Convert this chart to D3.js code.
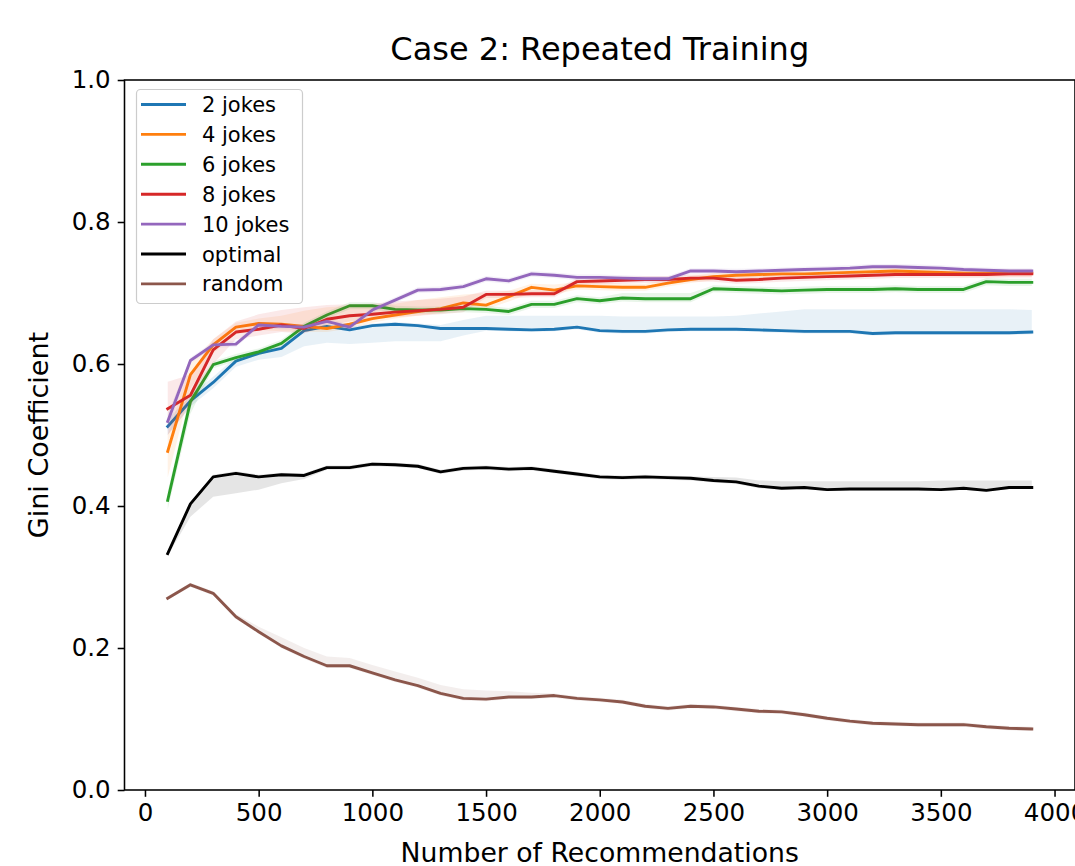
<html>
<!DOCTYPE html>
<meta charset="utf-8">
<style>
  body { margin: 0; background: #fff; }
  text { font-family: "DejaVu Sans", sans-serif; fill: #000; }
</style>
<body>
<div id="viz"></div>
<script src="https://d3js.org/d3.v7.min.js"></script>
<script>
// number of recommendations (x)
var recs = [100,200,300,400,500,600,700,800,900,1000,1100,1200,1300,1400,1500,1600,1700,1800,1900,2000,
            2100,2200,2300,2400,2500,2600,2700,2800,2900,3000,3100,3200,3300,3400,3500,3600,3700,3800,3900];

// gini values
var jokes2 = [0.512,0.548,0.574,0.604,0.615,0.622,0.647,0.653,0.648,0.654,0.656,0.654,0.650,0.650,0.650,0.649,0.648,0.649,0.652,0.647,
              0.646,0.646,0.648,0.649,0.649,0.649,0.648,0.647,0.646,0.646,0.646,0.643,0.644,0.644,0.644,0.644,0.644,0.644,0.645];
var jokes2Lo = [0.500,0.540,0.566,0.596,0.606,0.610,0.625,0.630,0.628,0.630,0.632,0.632,0.632,0.640,0.647,0.646,0.645,0.646,0.649,0.644,
              0.643,0.643,0.645,0.646,0.646,0.646,0.645,0.644,0.643,0.643,0.643,0.640,0.641,0.641,0.641,0.641,0.641,0.641,0.642];
var jokes2Hi = [0.522,0.556,0.582,0.610,0.620,0.626,0.650,0.656,0.652,0.657,0.659,0.657,0.655,0.662,0.668,0.668,0.668,0.668,0.668,0.668,
              0.667,0.667,0.667,0.667,0.667,0.668,0.671,0.674,0.677,0.677,0.677,0.677,0.677,0.677,0.677,0.677,0.677,0.677,0.676];

var jokes4 = [0.477,0.585,0.627,0.652,0.657,0.656,0.653,0.650,0.656,0.664,0.669,0.674,0.678,0.686,0.683,0.695,0.708,0.704,0.710,0.709,
              0.708,0.708,0.714,0.719,0.723,0.725,0.726,0.727,0.727,0.728,0.729,0.730,0.731,0.730,0.729,0.728,0.728,0.728,0.728];
var jokes4Lo = [0.440,0.565,0.615,0.642,0.648,0.646,0.645,0.645,0.650,0.658,0.664,0.668,0.672,0.678,0.677,0.688,0.700,0.698,0.705,0.704,
              0.703,0.703,0.709,0.714,0.718,0.720,0.721,0.722,0.722,0.723,0.724,0.725,0.726,0.725,0.724,0.723,0.723,0.723,0.723];
var jokes4Hi = [0.500,0.600,0.635,0.658,0.664,0.668,0.675,0.680,0.682,0.683,0.685,0.690,0.694,0.698,0.700,0.703,0.713,0.712,0.715,0.714,
              0.713,0.713,0.719,0.724,0.728,0.730,0.731,0.732,0.732,0.733,0.734,0.735,0.736,0.735,0.734,0.733,0.733,0.733,0.733];

var jokes6 = [0.408,0.547,0.599,0.609,0.617,0.629,0.653,0.669,0.682,0.682,0.677,0.676,0.676,0.678,0.677,0.674,0.684,0.684,0.692,0.689,
              0.693,0.692,0.692,0.692,0.706,0.705,0.704,0.703,0.704,0.705,0.705,0.705,0.706,0.705,0.705,0.705,0.716,0.715,0.715];
var jokes6Lo = [0.395,0.530,0.594,0.604,0.612,0.624,0.648,0.664,0.677,0.677,0.672,0.671,0.671,0.673,0.672,0.669,0.679,0.679,0.687,0.684,
              0.688,0.687,0.687,0.687,0.701,0.700,0.699,0.698,0.699,0.700,0.700,0.700,0.701,0.700,0.700,0.700,0.711,0.710,0.710];
var jokes6Hi = [0.420,0.560,0.604,0.614,0.622,0.634,0.658,0.674,0.687,0.687,0.682,0.681,0.681,0.683,0.682,0.679,0.689,0.689,0.697,0.694,
              0.700,0.700,0.700,0.700,0.711,0.710,0.709,0.708,0.709,0.710,0.710,0.710,0.711,0.710,0.710,0.710,0.721,0.720,0.720];

var jokes8 = [0.537,0.556,0.620,0.645,0.649,0.655,0.650,0.663,0.668,0.670,0.673,0.675,0.677,0.680,0.698,0.698,0.699,0.699,0.716,0.717,
              0.718,0.719,0.719,0.721,0.721,0.718,0.719,0.721,0.722,0.723,0.724,0.725,0.726,0.726,0.726,0.726,0.726,0.727,0.727];
var jokes8Lo = [0.500,0.540,0.600,0.635,0.640,0.645,0.643,0.655,0.660,0.663,0.666,0.668,0.670,0.673,0.693,0.693,0.694,0.694,0.711,0.712,
              0.713,0.714,0.714,0.716,0.716,0.713,0.714,0.716,0.717,0.718,0.719,0.720,0.721,0.721,0.721,0.721,0.721,0.722,0.722];
var jokes8Hi = [0.575,0.585,0.635,0.660,0.670,0.676,0.680,0.683,0.684,0.685,0.688,0.690,0.692,0.695,0.703,0.703,0.704,0.704,0.721,0.722,
              0.723,0.724,0.724,0.726,0.726,0.723,0.724,0.726,0.727,0.728,0.729,0.730,0.731,0.731,0.731,0.731,0.731,0.732,0.732];

var jokes10 = [0.519,0.605,0.627,0.628,0.655,0.653,0.652,0.660,0.652,0.676,0.690,0.704,0.705,0.709,0.720,0.717,0.727,0.725,0.722,0.722,
              0.721,0.720,0.720,0.731,0.731,0.730,0.731,0.732,0.733,0.734,0.735,0.737,0.737,0.736,0.735,0.733,0.732,0.731,0.731];
var jokes10Lo = [0.505,0.601,0.623,0.624,0.651,0.649,0.648,0.656,0.648,0.672,0.686,0.700,0.701,0.705,0.716,0.713,0.723,0.721,0.718,0.718,
              0.717,0.716,0.716,0.727,0.727,0.726,0.727,0.728,0.729,0.730,0.731,0.733,0.733,0.732,0.731,0.729,0.728,0.727,0.727];
var jokes10Hi = [0.530,0.609,0.631,0.632,0.659,0.657,0.656,0.664,0.656,0.680,0.694,0.708,0.709,0.713,0.724,0.721,0.731,0.729,0.726,0.726,
              0.725,0.724,0.724,0.735,0.735,0.734,0.735,0.736,0.737,0.738,0.739,0.741,0.741,0.740,0.739,0.737,0.736,0.735,0.735];

var optimal = [0.333,0.403,0.441,0.446,0.441,0.444,0.443,0.454,0.454,0.459,0.458,0.456,0.448,0.453,0.454,0.452,0.453,0.449,0.445,0.441,
              0.440,0.441,0.440,0.439,0.436,0.434,0.428,0.425,0.426,0.423,0.424,0.424,0.424,0.424,0.423,0.425,0.422,0.426,0.426];
var optimalLo = [0.330,0.385,0.413,0.418,0.423,0.432,0.438,0.451,0.451,0.456,0.455,0.453,0.445,0.450,0.451,0.449,0.450,0.446,0.442,0.438,
              0.437,0.438,0.437,0.436,0.433,0.431,0.425,0.423,0.424,0.421,0.422,0.422,0.422,0.422,0.421,0.423,0.420,0.424,0.424];
var optimalHi = [0.337,0.406,0.444,0.449,0.444,0.447,0.446,0.457,0.457,0.462,0.461,0.459,0.451,0.456,0.457,0.455,0.456,0.452,0.448,0.444,
              0.443,0.444,0.443,0.442,0.441,0.440,0.436,0.435,0.435,0.435,0.435,0.435,0.435,0.435,0.436,0.436,0.436,0.436,0.436];

var randomRec = [0.270,0.289,0.277,0.244,0.223,0.203,0.188,0.175,0.175,0.165,0.155,0.147,0.136,0.129,0.128,0.131,0.131,0.133,0.129,0.127,
              0.124,0.118,0.115,0.118,0.117,0.114,0.111,0.110,0.106,0.101,0.097,0.094,0.093,0.092,0.092,0.092,0.089,0.087,0.086];
var randomLo = [0.268,0.286,0.274,0.241,0.220,0.200,0.185,0.172,0.172,0.162,0.152,0.144,0.133,0.126,0.125,0.128,0.128,0.130,0.126,0.124,
              0.121,0.115,0.112,0.115,0.114,0.111,0.108,0.107,0.103,0.098,0.094,0.091,0.090,0.089,0.089,0.089,0.086,0.084,0.083];
var randomHi = [0.273,0.292,0.280,0.248,0.230,0.215,0.200,0.188,0.186,0.176,0.167,0.158,0.148,0.142,0.140,0.139,0.137,0.136,0.132,0.130,
              0.127,0.121,0.118,0.121,0.120,0.117,0.114,0.113,0.109,0.104,0.100,0.097,0.096,0.095,0.095,0.095,0.092,0.090,0.089];

var labels = ["2 jokes","4 jokes","6 jokes","8 jokes","10 jokes","optimal","random"];
var colors = ["#1f77b4","#ff7f0e","#2ca02c","#d62728","#9467bd","#000000","#8c564b"];
var xTicks = [0,500,1000,1500,2000,2500,3000,3500,4000];
var yTicks = [0.0,0.2,0.4,0.6,0.8,1.0];

var series = [
  {name: labels[0], vals: jokes2,    lo: jokes2Lo,  hi: jokes2Hi},
  {name: labels[1], vals: jokes4,    lo: jokes4Lo,  hi: jokes4Hi},
  {name: labels[2], vals: jokes6,    lo: jokes6Lo,  hi: jokes6Hi},
  {name: labels[3], vals: jokes8,    lo: jokes8Lo,  hi: jokes8Hi},
  {name: labels[4], vals: jokes10,   lo: jokes10Lo, hi: jokes10Hi},
  {name: labels[5], vals: optimal,   lo: optimalLo, hi: optimalHi},
  {name: labels[6], vals: randomRec, lo: randomLo,  hi: randomHi}
];

var W = 1075, H = 866;
var plotL = 124.5, plotR = 1075, plotT = 80, plotB = 790;

var svg = d3.select("#viz").append("svg")
  .attr("width", W).attr("height", H);

var x = d3.scaleLinear().domain([-90, 4090]).range([plotL, plotR]);
var y = d3.scaleLinear().domain([0, 1]).range([plotB, plotT]);

svg.append("clipPath").attr("id", "plot")
  .append("rect").attr("x", plotL).attr("y", plotT).attr("width", plotR - plotL).attr("height", plotB - plotT);

var g = svg.append("g").attr("clip-path", "url(#plot)");

var line = d3.line()
  .x(function(d, i) { return x(recs[i]); })
  .y(function(d) { return y(d); });

// each series: line then its shaded band, like fill_between
series.forEach(function(s, k) {
  g.append("path")
    .attr("d", line(s.vals))
    .attr("fill", "none")
    .attr("stroke", colors[k])
    .attr("stroke-width", 2.9)
    .attr("stroke-linejoin", "round")
    .attr("stroke-linecap", "square");

  var band = d3.area()
    .x(function(d, i) { return x(recs[i]); })
    .y0(function(d, i) { return y(s.lo[i]); })
    .y1(function(d, i) { return y(s.hi[i]); });
  g.append("path")
    .attr("d", band(s.vals))
    .attr("fill", colors[k])
    .attr("fill-opacity", 0.1);
});

// axes
var xAxis = d3.axisBottom(x).tickValues(xTicks).tickSizeOuter(0).tickSize(6.8).tickPadding(7)
  .tickFormat(d3.format("d"));
var yAxis = d3.axisLeft(y).tickValues(yTicks).tickSizeOuter(0).tickSize(6.8).tickPadding(7)
  .tickFormat(d3.format(".1f"));

var gx = svg.append("g").attr("transform", "translate(0," + plotB + ")").call(xAxis);
var gy = svg.append("g").attr("transform", "translate(" + plotL + ",0)").call(yAxis);
[gx, gy].forEach(function(a) {
  a.select(".domain").remove();
  a.selectAll(".tick line").attr("stroke", "#000").attr("stroke-width", 1.55);
  a.selectAll(".tick text").attr("font-size", "24.5px").attr("font-family", "DejaVu Sans").attr("fill", "#000");
});

// spines
svg.append("rect")
  .attr("x", plotL).attr("y", plotT)
  .attr("width", plotR - plotL).attr("height", plotB - plotT)
  .attr("fill", "none").attr("stroke", "#000").attr("stroke-width", 1.55);

// legend
var lg = svg.append("g");
lg.append("rect")
  .attr("x", 136.5).attr("y", 89.5).attr("width", 166).attr("height", 214).attr("rx", 4)
  .attr("fill", "#fff").attr("fill-opacity", 0.8)
  .attr("stroke", "#cccccc").attr("stroke-width", 1.2);
labels.forEach(function(l, i) {
  var cy = 104.5 + i * 29.9;
  lg.append("line").attr("x1", 141).attr("x2", 186).attr("y1", cy).attr("y2", cy)
    .attr("stroke", colors[i]).attr("stroke-width", 2.9);
  lg.append("text").attr("x", 202).attr("y", cy + 7.5)
    .attr("font-size", "21px").text(l);
});

// title and labels
svg.append("text").attr("x", (plotL + plotR) / 2).attr("y", 60)
  .attr("text-anchor", "middle").attr("font-size", "32px")
  .text("Case 2: Repeated Training");
svg.append("text").attr("x", (plotL + plotR) / 2).attr("y", 862)
  .attr("text-anchor", "middle").attr("font-size", "26.7px")
  .text("Number of Recommendations");
svg.append("text")
  .attr("transform", "translate(48," + (plotT + plotB) / 2 + ") rotate(-90)")
  .attr("text-anchor", "middle").attr("font-size", "27px")
  .text("Gini Coefficient");
</script>
</body>
</html>
